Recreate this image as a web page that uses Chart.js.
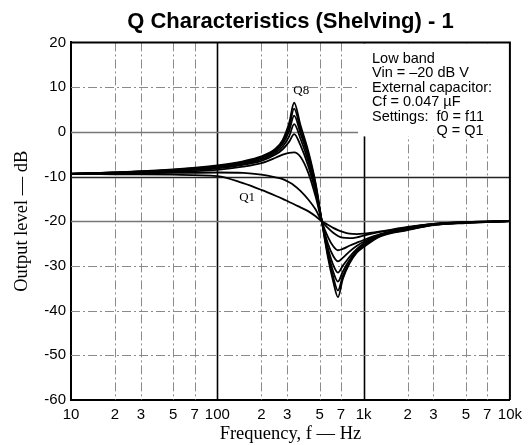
<!DOCTYPE html>
<html>
<head>
<meta charset="utf-8">
<script src="https://cdn.jsdelivr.net/npm/chart.js@4.4.1/dist/chart.umd.min.js"></script>
<style>
  body { margin: 0; background: #fff; }
  canvas { display: block; }
</style>
</head>
<body>
<canvas id="qChart" width="528" height="445"></canvas>
<script>
/* ---------------------------------------------------
   data (Hz / dB)
----------------------------------------------------- */
var freqs = [10, 20, 50, 100, 150, 200, 250, 280, 310, 335, 370, 420, 470, 518,
             570, 620, 668, 720, 800, 900, 1000, 1300, 2000, 3000, 5000, 10000];

var q1 = [-9.4, -9.5, -9.6, -9.9, -11.5, -13.0, -14.3, -15.0, -15.7, -16.2, -16.9, -17.8, -18.9, -20,
          -20.8, -21.5, -22.0, -22.4, -22.8, -22.9, -22.8, -22.3, -21.3, -20.6, -20.2, -20];
var q2 = [-9.3, -9.3, -9.2, -9.1, -9.2, -9.6, -10.2, -10.6, -11.3, -12.0, -13.2, -15.2, -17.4, -20,
          -21.5, -22.6, -23.3, -23.7, -23.8, -23.6, -23.2, -22.4, -21.4, -20.6, -20.2, -20];
var q3 = [-9.4, -9.3, -9.0, -8.5, -7.8, -7.0, -5.8, -5.1, -4.7, -4.6, -5.6, -9.3, -14.5, -20,
          -23.5, -25.6, -26.5, -26.2, -25.5, -24.8, -24.2, -22.9, -21.5, -20.6, -20.2, -20];
var q4 = [-9.4, -9.2, -8.8, -8.2, -7.4, -6.5, -5.1, -3.9, -2.2, -0.5, -3.0, -7.8, -13.5, -20,
          -25.0, -27.8, -29.0, -28.2, -26.8, -25.5, -24.6, -23.0, -21.6, -20.7, -20.2, -20];
var q5 = [-9.4, -9.2, -8.7, -8.0, -7.2, -6.2, -4.7, -3.3, -1.0, 1.7, -1.5, -6.8, -12.9, -20,
          -26.0, -29.8, -31.5, -30.0, -28.0, -26.2, -25.0, -23.1, -21.7, -20.7, -20.3, -20];
var q6 = [-9.4, -9.1, -8.6, -7.8, -7.0, -5.9, -4.3, -2.7, 0.2, 3.6, -0.3, -5.9, -12.4, -20,
          -26.8, -31.3, -33.5, -31.3, -28.7, -26.5, -25.3, -23.2, -21.8, -20.8, -20.3, -20];
var q7 = [-9.4, -9.1, -8.5, -7.7, -6.8, -5.7, -4.0, -2.2, 1.1, 5.2, 0.6, -5.1, -11.9, -20,
          -27.5, -32.5, -35.5, -32.3, -29.2, -26.8, -25.5, -23.3, -21.9, -20.8, -20.3, -20];
var q8 = [-9.4, -9.1, -8.4, -7.5, -6.6, -5.5, -3.8, -1.8, 2.0, 6.5, 1.5, -4.5, -11.5, -20,
          -28, -33.5, -37, -33, -29.5, -27, -25.8, -23.4, -22.0, -20.9, -20.4, -20];

var curves = [q1, q2, q3, q4, q5, q6, q7, q8];

var xTicks = [10, 20, 30, 50, 70, 100, 200, 300, 500, 700, 1000, 2000, 3000, 5000, 7000, 10000];
var xTickLabels = ['10', '2', '3', '5', '7', '100', '2', '3', '5', '7', '1k', '2', '3', '5', '7', '10k'];
var xMajor = [100, 1000];
var yMajor = [0, -10, -20];

var noteLines = ['Low band', 'Vin = \u201320 dB V', 'External capacitor:', 'Cf = 0.047 \u00b5F',
                 'Settings:  f0 = f11', '                Q = Q1'];
var curveTags = [{text: 'Q8', f: 375, db: 9.3}, {text: 'Q1', f: 160, db: -14.8}];

/* ---------------------------------------------------
   grid, note box, curve tags
----------------------------------------------------- */
var sansFont = '"Liberation Sans", Arial, sans-serif';
var serifFont = '"Liberation Serif", "Times New Roman", serif';

var paperPlugin = {
    id: 'paper',
    beforeDatasetsDraw: function (chart) {
        var ctx = chart.ctx, a = chart.chartArea;
        var xs = chart.scales.x, ys = chart.scales.y;
        ctx.save();
        // vertical lines
        for (var i = 1; i < xTicks.length - 1; i++) {
            var px = Math.round(xs.getPixelForValue(xTicks[i])) + 0.5;
            var major = xMajor.indexOf(xTicks[i]) >= 0;
            ctx.strokeStyle = major ? '#000' : '#8a8a8a';
            ctx.lineWidth = major ? 1.6 : 1;
            ctx.setLineDash(major ? [] : [9, 3, 2, 3]);
            ctx.beginPath();
            ctx.moveTo(px, a.top);
            ctx.lineTo(px, a.bottom);
            ctx.stroke();
        }
        // horizontal lines
        for (var v = 10; v >= -50; v -= 10) {
            var py = Math.round(ys.getPixelForValue(v)) + 0.5;
            var solid = yMajor.indexOf(v) >= 0;
            ctx.strokeStyle = solid ? (v === -10 ? '#222' : '#777') : '#8a8a8a';
            ctx.lineWidth = solid ? 1.4 : 1;
            ctx.setLineDash(solid ? [] : [9, 3, 2, 3]);
            ctx.beginPath();
            ctx.moveTo(a.left, py);
            ctx.lineTo(a.right, py);
            ctx.stroke();
        }
        ctx.setLineDash([]);
        // white box behind the note
        ctx.fillStyle = '#fff';
        ctx.fillRect(358, a.top + 1, a.right - 359, 93);
        ctx.fillStyle = '#000';
        ctx.font = '14.5px ' + sansFont;
        ctx.textBaseline = 'alphabetic';
        ctx.textAlign = 'left';
        for (var k = 0; k < noteLines.length; k++) {
            ctx.fillText(noteLines[k], 372, 63 + k * 14.4);
        }
        ctx.restore();
    },
    afterDatasetsDraw: function (chart) {
        var ctx = chart.ctx;
        var xs = chart.scales.x, ys = chart.scales.y;
        ctx.save();
        ctx.fillStyle = '#000';
        ctx.font = '13px ' + serifFont;
        ctx.textAlign = 'center';
        ctx.textBaseline = 'middle';
        curveTags.forEach(function (t) {
            ctx.fillText(t.text, xs.getPixelForValue(t.f), ys.getPixelForValue(t.db));
        });
        ctx.restore();
    }
};

var datasets = curves.map(function (c, i) {
    return {
        label: 'Q' + (i + 1),
        data: c.map(function (v, j) { return {x: freqs[j], y: v}; }),
        borderColor: '#000',
        borderWidth: 1.8,
        pointRadius: 0,
        fill: false,
        cubicInterpolationMode: 'monotone'
    };
});

var ctxQ = document.getElementById('qChart').getContext('2d');
var qChart = new Chart(ctxQ, {
    type: 'line',
    data: { datasets: datasets },
    options: {
        responsive: false,
        animation: false,
        layout: { padding: { left: 0, right: 16, top: 0, bottom: 0 } },
        plugins: {
            legend: { display: false },
            tooltip: { enabled: false },
            title: {
                display: true,
                fullSize: false,
                text: 'Q Characteristics (Shelving) - 1',
                color: '#000',
                font: { family: sansFont, size: 22, weight: 'bold' },
                padding: { top: 9, bottom: 7 }
            }
        },
        scales: {
            x: {
                type: 'logarithmic',
                min: 10,
                max: 10000,
                afterBuildTicks: function (scale) {
                    scale.ticks = xTicks.map(function (v) { return {value: v}; });
                },
                afterFit: function (scale) { scale.height = 45; },
                ticks: {
                    autoSkip: false,
                    maxRotation: 0,
                    color: '#000',
                    padding: 6,
                    font: { family: sansFont, size: 15 },
                    callback: function (value) {
                        var idx = xTicks.indexOf(value);
                        return idx >= 0 ? xTickLabels[idx] : '';
                    }
                },
                grid: { drawOnChartArea: false, drawTicks: false },
                border: { color: '#000', width: 2 },
                title: {
                    display: true,
                    text: 'Frequency, f \u2014 Hz',
                    color: '#000',
                    font: { family: serifFont, size: 18.5 },
                    padding: { top: 0, bottom: 0 }
                }
            },
            y: {
                min: -60,
                max: 20,
                afterFit: function (scale) { scale.width = 71; },
                ticks: {
                    stepSize: 10,
                    color: '#000',
                    padding: 5,
                    font: { family: sansFont, size: 15 }
                },
                grid: { drawOnChartArea: false, drawTicks: false },
                border: { color: '#000', width: 2 },
                title: {
                    display: true,
                    text: 'Output level \u2014 dB',
                    color: '#000',
                    font: { family: serifFont, size: 18.5 },
                    padding: { top: 11, bottom: 0 }
                }
            }
        }
    },
    plugins: [paperPlugin, {
        id: 'frame',
        afterDraw: function (chart) {
            var a = chart.chartArea, c = chart.ctx;
            c.save();
            c.strokeStyle = '#000';
            c.lineWidth = 2;
            c.beginPath();
            c.moveTo(a.left, a.top);
            c.lineTo(a.right, a.top);
            c.lineTo(a.right, a.bottom);
            c.stroke();
            c.restore();
        }
    }]
});
</script>
</body>
</html>
